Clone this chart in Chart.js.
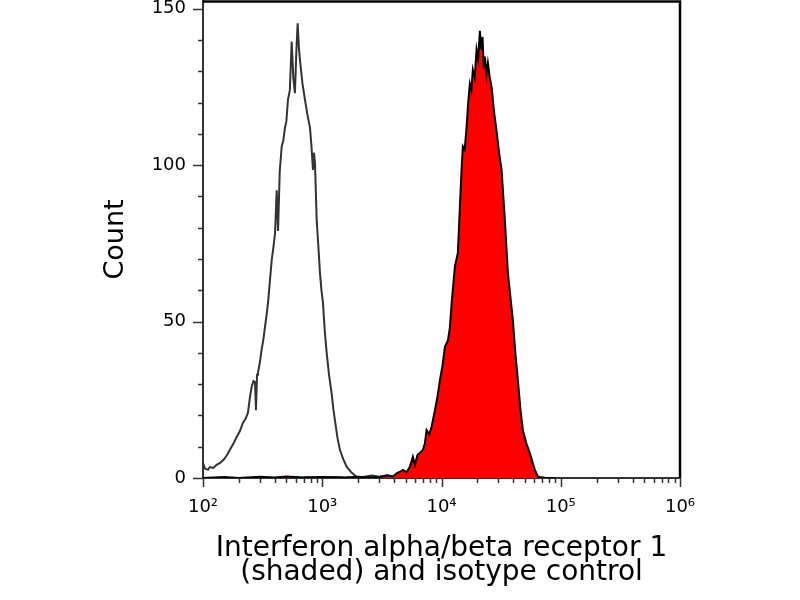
<!DOCTYPE html>
<html>
<head>
<meta charset="utf-8">
<script src="https://cdn.jsdelivr.net/npm/chart.js@4/dist/chart.umd.min.js"></script>
<style>
  html, body { margin: 0; padding: 0; background: #fff; }
  #histo { display: block; }
</style>
</head>
<body>
<canvas id="histo" width="800" height="600"></canvas>
<script>
// isotype control (open line)
const isoX = [100, 104, 110, 114, 122, 130, 139, 150, 160, 168, 180, 192, 204, 216, 228, 238, 248, 256, 265, 273,
  278, 284, 289, 300, 310, 320, 331, 341, 351, 364, 377, 390, 402, 415, 426, 440, 457, 472, 487, 500,
  516, 535, 554, 572, 590, 606, 622, 636, 650, 683, 716, 752, 789, 812, 836, 852, 869, 898, 928, 957,
  985, 1014, 1050, 1089, 1140, 1199, 1240, 1277, 1340, 1406, 1500, 1602, 1750, 1943, 2200, 2600, 3000, 3500, 4000, 4600,
  5200, 6000, 7000, 8000, 9000];
const isoY = [4.8, 3.0, 2.6, 3.5, 3.2, 4.2, 4.8, 6.0, 7.5, 9, 11, 13.2, 15, 17.6, 19, 20.8, 26, 29.2, 31, 30.7,
  21.7, 33, 33.6, 37, 41, 44, 48.3, 52, 56, 63, 69.7, 74, 78.3, 92, 79, 98, 106, 108, 112, 114,
  121, 124, 139.5, 128, 123, 136, 145.4, 138, 133.7, 126, 121, 116, 112, 106, 98.5, 104, 100.7, 82.5, 74, 65.5,
  60, 56, 47, 40, 33, 27, 22, 18.5, 13, 9, 6, 3.6, 1.8, 0.4, 0.3, 0.8, 0.4, 0.9, 0.5, 1.2,
  0.6, 0.9, 0.4, 0.5, 0.2];

// Interferon alpha/beta receptor 1 (shaded)
const shadedX = [100, 150, 200, 300, 400, 500, 700, 1000, 1500, 2000, 2500, 3048, 3500, 3900, 4203, 4500, 4747, 5100, 5432, 5754,
  5984, 6300, 6590, 6985, 7250, 7500, 7900, 8263, 8808, 9250, 9707, 10200, 10690, 11330, 11750, 12170, 12950, 13720, 14260, 14730,
  15100, 15650, 16220, 16750, 17290, 17800, 18320, 19000, 19680, 20300, 20990, 21500, 22090, 22600, 23110, 23800, 24480, 25400, 26300, 27600,
  28960, 30400, 31900, 33990, 36030, 37800, 39670, 41600, 43690, 45900, 48110, 51500, 55070, 58000, 60670, 64310, 66840, 75000, 90000];
const shadedY = [0, 0.3, 0, 0.4, 0.2, 0.5, 0.2, 0.3, 0.2, 0.4, 0.2, 0.3, 0.8, 0.4, 1.5, 2.0, 2.6, 1.8, 3.6, 6.8,
  4.2, 7.5, 8, 9, 11, 15.3, 14, 16.4, 21.7, 26, 31.3, 36, 42, 44, 48, 56, 67.6, 72, 86.8, 98.5,
  106, 105, 112, 120, 126, 124, 130.5, 128, 137, 134, 143, 137, 141, 131, 134.7, 129, 132.7, 128, 125, 117,
  111, 104, 98.5, 82.5, 65.5, 58, 50.5, 40, 31.3, 22, 15.3, 11, 8, 5, 2.6, 0.5, 0.3, 0, 0];

const decades = [100, 1000, 10000, 100000, 1000000];
const decadeLabels = ['10²', '10³', '10⁴', '10⁵', '10⁶'];
const countTicks = [0, 50, 100, 150];

const FONT = 'DejaVu Sans';

const pairs = (xs, ys) => xs.map((x, i) => ({ x: x, y: ys[i] }));

// outward tick marks + the black frame on top and right
const frameAndTicks = {
    id: 'frameAndTicks',
    afterDraw(chart) {
        const { ctx, chartArea: a, scales: { x, y } } = chart;
        ctx.save();
        ctx.strokeStyle = '#333';
        ctx.lineWidth = 1.5;
        ctx.beginPath();
        decades.forEach(d => {
            for (let m = 1; m <= 9; m++) {
                const v = m * d;
                if (v > 1000000) break;
                const px = Math.round(x.getPixelForValue(v)) + 0.5;
                ctx.moveTo(px, a.bottom);
                ctx.lineTo(px, a.bottom + (m === 1 ? 9 : 5));
            }
        });
        for (let v = 0; v <= 150; v += 10) {
            const py = Math.round(y.getPixelForValue(v)) + 0.5;
            ctx.moveTo(a.left, py);
            ctx.lineTo(a.left - (v % 50 === 0 ? 10 : 5), py);
        }
        ctx.stroke();

        ctx.strokeStyle = '#000';
        ctx.lineWidth = 2.5;
        ctx.beginPath();
        ctx.moveTo(a.left, a.top + 0.5);
        ctx.lineTo(a.right, a.top + 0.5);
        ctx.lineTo(a.right, a.bottom);
        ctx.stroke();
        ctx.restore();
    }
};

function noEdgePadding(s) {
    s.paddingTop = 0;
    s.paddingBottom = 0;
    s.paddingLeft = 0;
    s.paddingRight = 0;
}

new Chart(document.getElementById('histo'), {
    type: 'line',
    data: {
        datasets: [
            {
                label: 'Interferon alpha/beta receptor 1',
                data: pairs(shadedX, shadedY),
                borderColor: '#000',
                borderWidth: 2,
                backgroundColor: '#ff0000',
                fill: 'origin',
                pointRadius: 0,
                tension: 0
            },
            {
                label: 'isotype control',
                data: pairs(isoX, isoY),
                borderColor: '#333',
                borderWidth: 2,
                fill: false,
                pointRadius: 0,
                tension: 0
            }
        ]
    },
    options: {
        responsive: false,
        animation: false,
        devicePixelRatio: 1,
        layout: { padding: { top: 1, right: 120, left: 0, bottom: 0 } },
        plugins: { legend: { display: false }, tooltip: { enabled: false } },
        scales: {
            x: {
                type: 'logarithmic',
                min: 100,
                max: 1000000,
                afterFit: s => { s.height = 122; noEdgePadding(s); },
                afterBuildTicks: s => { s.ticks = decades.map(v => ({ value: v })); },
                grid: { display: false },
                border: { display: true, color: '#333', width: 2 },
                ticks: {
                    autoSkip: false,
                    maxRotation: 0,
                    padding: 11,
                    color: '#000',
                    font: { family: FONT, size: 18 },
                    callback: v => decadeLabels[decades.indexOf(v)]
                },
                title: {
                    display: true,
                    text: ['Interferon alpha/beta receptor 1', '(shaded) and isotype control'],
                    color: '#000',
                    font: { family: FONT, size: 28, lineHeight: '24px' },
                    padding: { top: 0, bottom: 15 }
                }
            },
            y: {
                min: 0,
                max: 152.5,
                afterFit: s => { s.width = 203; noEdgePadding(s); },
                afterBuildTicks: s => { s.ticks = countTicks.map(v => ({ value: v })); },
                grid: { display: false },
                border: { display: true, color: '#333', width: 2 },
                ticks: {
                    padding: 9,
                    color: '#000',
                    font: { family: FONT, size: 18 }
                },
                title: {
                    display: true,
                    text: 'Count',
                    color: '#000',
                    font: { family: FONT, size: 27, lineHeight: 1.2 },
                    padding: { top: 100, bottom: 0 }
                }
            }
        }
    },
    plugins: [frameAndTicks]
});
</script>
</body>
</html>
